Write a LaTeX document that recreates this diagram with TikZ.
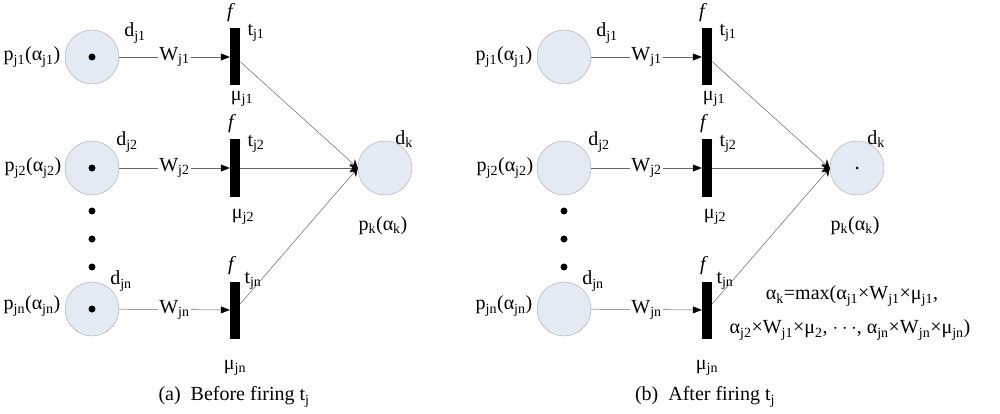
\documentclass[tikz,border=0pt]{standalone}
\usetikzlibrary{arrows.meta}
\usepackage{fontspec}
\setmainfont{Liberation Serif}
\definecolor{placefill}{HTML}{E4EAF4}
\newcommand\sub[1]{\textsubscript{#1}}
\newcommand\mypanel[3]{%
\begin{scope}[xshift=#2]
\node[place] (#1p1) at (92,57) {};
\node[place] (#1p2) at (92,168) {};
\node[place] (#1pn) at (92,309) {};
\node[place] (#1pk) at (385,168) {};
\node[trans] (#1t1) at (235,57) {};
\node[trans] (#1t2) at (235,168) {};
\node[trans] (#1tn) at (235,310) {};
\ifnum#3=1
\node[tok] (#1k1) at (#1p1) {};
\node[tok] (#1k2) at (#1p2) {};
\node[tok] (#1kn) at (#1pn) {};
\else
\node[tok,minimum size=3pt] (#1kk) at (#1pk) {};
\fi
\node[tok] (#1d1) at (92,211) {};
\node[tok] (#1d2) at (92,239) {};
\node[tok] (#1d3) at (92,267) {};
\draw[inarc] (#1p1) -- node[lab,fill=white,inner sep=1pt]{W\sub{j1}} (#1t1);
\draw[inarc] (#1p2) -- node[lab,fill=white,inner sep=1pt]{W\sub{j2}} (#1t2);
\draw[inarc] (#1pn) -- node[lab,fill=white,inner sep=1pt]{W\sub{jn}} (#1tn);
\coordinate (#1in) at (#1pk.west);
\draw[outarc] (#1t1) -- (#1in);
\draw[outarc] (#1t2) -- (#1in);
\draw[outarc] (#1tn) -- (#1in);
\node[lab] (#1l1) at (32,57) {p\sub{j1}(α\sub{j1})};
\node[lab] (#1l2) at (33,168) {p\sub{j2}(α\sub{j2})};
\node[lab] (#1ln) at (32,306) {p\sub{jn}(α\sub{jn})};
\node[lab] (#1a1) at (135,33) {d\sub{j1}};
\node[lab] (#1a2) at (127,142) {d\sub{j2}};
\node[lab] (#1an) at (121,281) {d\sub{jn}};
\node[lab] (#1f1) at (231,13) {\textit{f}};
\node[lab] (#1f2) at (232,124) {\textit{f}};
\node[lab] (#1fn) at (232,266) {\textit{f}};
\node[lab] (#1s1) at (256,33) {t\sub{j1}};
\node[lab] (#1s2) at (256,144) {t\sub{j2}};
\node[lab] (#1sn) at (253,281) {t\sub{jn}};
\node[lab] (#1m1) at (242,99) {μ\sub{j1}};
\node[lab] (#1m2) at (243,217) {μ\sub{j2}};
\node[lab] (#1mn) at (235,368) {μ\sub{jn}};
\node[lab] (#1dk) at (404,139) {d\sub{k}};
\node[lab] (#1pl) at (383,226) {p\sub{k}(α\sub{k})};
\end{scope}}
\begin{document}
\begin{tikzpicture}[x=1pt,y=-1pt,
  place/.style={circle,draw=gray!70,fill=placefill,minimum size=54pt,inner sep=0pt},
  trans/.style={rectangle,fill=black,minimum width=10pt,minimum height=57pt,inner sep=0pt},
  tok/.style={circle,fill=black,minimum size=7pt,inner sep=0pt},
  lab/.style={font=\fontsize{20}{22}\selectfont,inner sep=0pt},
  inarc/.style={draw=gray!80!black,line width=0.5pt,-{Triangle[length=9pt,width=7pt,color=black]}},
  outarc/.style={draw=gray!80!black,line width=0.5pt,-{Stealth[length=8pt,width=9pt,color=black]}}]
\useasboundingbox (0,0) rectangle (1000,414);
\mypanel{a}{0pt}{1}
\mypanel{b}{472pt}{0}
\node[lab] (capa) at (234,397) {(a)\ \ Before firing t\sub{j}};
\node[lab] (capb) at (705,397) {(b)\ \ After firing t\sub{j}};
\node[lab] (f1) at (852,296) {α\sub{k}=max(α\sub{j1}×W\sub{j1}×μ\sub{j1},};
\node[lab] (f2) at (850,330) {α\sub{j2}×W\sub{j1}×μ\sub{2}, $\cdots$, α\sub{jn}×W\sub{jn}×μ\sub{jn})};
\end{tikzpicture}
\end{document}
